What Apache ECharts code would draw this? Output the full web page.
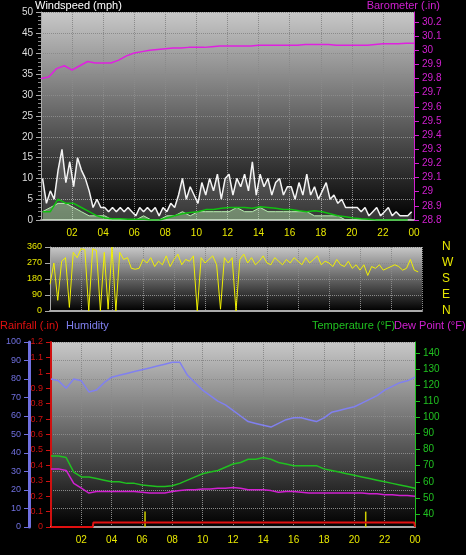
<!DOCTYPE html><html><head><meta charset="utf-8">
<script src="https://cdn.jsdelivr.net/npm/echarts@6/dist/echarts.min.js"></script>
<style>html,body{margin:0;background:#000}#c{width:466px;height:555px}</style></head><body><div id="c"></div>
<script>
const hourTicks=['02','04','06','08','10','12','14','16','18','20','22','00'];
const gust=[10,4,7,5,12,17,9,14,8,15,12,10,7,3,5,3,3,2,3,2,3,2,3,2,1,3,2,3,2,3,1,3,2,4,3,6,10,5,8,6,4,9,6,10,7,11,5,10,11,6,10,8,11,7,14,6,11,8,10,6,9,10,6,8,8,5,9,6,11,6,8,5,7,9,5,6,4,5,3,3,3,3,2,3,1,2,3,1,2,3,1,2,1,1,1,2];
const speed=[2,3,4,4,3,2,1,1,1,0,0,0,0,1,0,0,1,1,2,1,2,2,2,2,2,3,2,2,3,2,2,2,2,2,2,1,1,1,1,0,0,0,0,0,0,0,0,0];
const avgWind=[2,2,5,4,4,3,2,1,0.5,0.3,0.3,0.2,0.2,0.2,0,0,0.5,1,1.5,1.8,2,2.5,2.5,2.8,3,3,3,2.8,3.2,3,2.8,2.5,2.5,2.2,2,2.2,2,1.5,1,0.8,0.5,0.3,0.2,0,0,0,0,0];
const baro=[29.80,29.81,29.87,29.89,29.86,29.89,29.92,29.91,29.91,29.91,29.93,29.96,29.98,29.99,30.00,30.005,30.01,30.015,30.015,30.02,30.02,30.02,30.025,30.03,30.03,30.03,30.03,30.03,30.035,30.035,30.035,30.035,30.035,30.035,30.04,30.04,30.04,30.04,30.035,30.035,30.035,30.035,30.035,30.04,30.045,30.045,30.045,30.05,30.05];
const windDir=[150,270,60,280,300,20,330,300,350,345,0,350,340,0,330,10,360,0,330,290,300,240,235,240,290,270,300,250,280,260,310,250,290,320,260,290,280,310,0,300,270,290,310,260,10,300,270,300,0,290,320,270,300,260,280,310,270,260,300,280,260,290,270,300,280,260,300,270,290,310,260,280,270,250,290,260,250,280,240,260,230,260,200,250,240,260,230,240,250,260,250,230,240,290,230,220];
const humidity=[80,79,75,80,79,73,74,78,81,82,83,84,85,86,87,88,89,89,82,78,74,71,68,66,63,60,57,56,55,54,56,58,59,59,58,57,59,62,63,64,65,67,69,71,74,76,78,79,81];
const temperature=[76,76,75,66,63,63,62,61,60,60,59,59,58,57.5,57,57,57.5,59,61,63,65,66,67,69,71,72,74,74,75,74,72,71,70,70,70,70,68,67,66,65,64,63,62,61,60,59,58,57,56];
const dewPoint=[68,68,67,59,56,53,54,54,54,54,54,54,53.5,53,53,53,54,54.5,55,55,55.5,55.5,56,56,56.5,56,55,55,55,54.5,53.5,54,54,53.5,53,53,53,53,53,53,53,53,52.5,52.5,52,52,51.5,51.5,51];
const rainHours=[0,2.75,2.8,23.95,24];
const rainfall=[0,0,0.03,0.03,0];
const rateHours=[6.2,20.75];
const rainRate=[0.1,0.1];
const dirLabels={0:'N',90:'E',180:'S',270:'W',360:'N'};

const pairs=(arr,step,start=0)=>arr.map((v,i)=>[start+i*step,v]);
const zip=(xs,ys)=>xs.map((x,i)=>[x,ys[i]]);
const F='Liberation Sans';
const bg={type:'linear',x:0,y:0,x2:0,y2:1,colorStops:[{offset:0,color:'#c8c8c8'},{offset:1,color:'#000'}]};
const gridLine={show:true,lineStyle:{color:'#8a8a8a',type:'dotted',width:1}};
const xCommon=(gi,show)=>({type:'value',gridIndex:gi,min:0,max:24,interval:2,
  axisLine:{show:true,lineStyle:{color:'#aaa',width:2}},axisTick:{show:false},splitLine:gridLine,
  axisLabel:{show:show,color:'#e8e800',fontSize:10,fontFamily:F,formatter:v=>v===0?'':hourTicks[v/2-1]}});
const ch=echarts.init(document.getElementById('c'));
ch.setOption({backgroundColor:'#000',animation:false,
grid:[
 {left:41,right:52,top:12,height:208,show:true,backgroundColor:bg,borderWidth:0},
 {left:50,right:44,top:247,height:64,show:true,backgroundColor:bg,borderWidth:0},
 {left:51,right:51,top:342,height:185,show:true,backgroundColor:bg,borderWidth:0}],
xAxis:[xCommon(0,true),xCommon(1,false),xCommon(2,true)],
yAxis:[
 {type:'value',gridIndex:0,min:0,max:50,interval:5,axisLine:{show:true,lineStyle:{color:'#aaa'}},axisTick:{show:true,lineStyle:{color:'#aaa'}},minorTick:{show:true,splitNumber:5,lineStyle:{color:'#888'}},splitLine:gridLine,axisLabel:{color:'#ddd',fontSize:10,fontFamily:F}},
 {type:'value',gridIndex:0,position:'right',min:28.8,max:30.27,axisLine:{show:true,lineStyle:{color:'#d020d0'}},axisTick:{show:true,customValues:[28.8,28.9,29,29.1,29.2,29.3,29.4,29.5,29.6,29.7,29.8,29.9,30,30.1,30.2]},splitLine:{show:false},axisLabel:{color:'#d020d0',fontSize:10,fontFamily:F,customValues:[28.8,28.9,29,29.1,29.2,29.3,29.4,29.5,29.6,29.7,29.8,29.9,30,30.1,30.2],formatter:v=>String(+v.toFixed(1))}},
 {type:'value',gridIndex:1,min:0,max:360,interval:90,axisLine:{show:true,lineStyle:{color:'#aaa'}},axisTick:{show:true},splitLine:gridLine,axisLabel:{color:'#e8e800',fontSize:9,fontFamily:F}},
 {type:'value',gridIndex:1,position:'right',min:0,max:360,interval:90,offset:12,axisLine:{show:false},axisTick:{show:false},splitLine:{show:false},axisLabel:{color:'#e8e800',fontSize:12,fontFamily:F,formatter:v=>dirLabels[v]}},
 {type:'value',gridIndex:2,position:'left',min:0,max:1.2,interval:0.1,axisLine:{show:true,lineStyle:{color:'#d01010',width:2}},axisTick:{show:true},splitLine:{show:false},axisLabel:{color:'#d01010',fontSize:9,fontFamily:F,formatter:v=>String(+v.toFixed(1))}},
 {type:'value',gridIndex:2,position:'left',min:0,max:100,interval:10,offset:22,axisLine:{show:true,lineStyle:{color:'#7070e0',width:3}},axisTick:{show:true},splitLine:gridLine,axisLabel:{color:'#7070e0',fontSize:9,fontFamily:F}},
 {type:'value',gridIndex:2,position:'right',min:31.9,max:146.8,axisLine:{show:true,lineStyle:{color:'#20c020'}},axisTick:{show:true,customValues:[40,50,60,70,80,90,100,110,120,130,140]},splitLine:{show:false},axisLabel:{color:'#20c020',fontSize:10,fontFamily:F,customValues:[40,50,60,70,80,90,100,110,120,130,140]}}],
series:[
 {type:'line',xAxisIndex:0,yAxisIndex:0,data:pairs(gust,0.25,0.1),symbol:'none',lineStyle:{color:'#f4f4f4',width:1.5},areaStyle:{color:'rgba(255,255,255,0.3)'}},
 {type:'line',xAxisIndex:0,yAxisIndex:0,data:pairs(speed,0.5,0.1),symbol:'none',lineStyle:{color:'#b8f0b0',width:1},areaStyle:{color:'rgba(190,245,180,0.6)'}},
 {type:'line',xAxisIndex:0,yAxisIndex:0,data:pairs(avgWind,0.5,0.1),symbol:'none',lineStyle:{color:'#10c010',width:1.5}},
 {type:'line',xAxisIndex:0,yAxisIndex:1,data:pairs(baro,0.5),symbol:'none',lineStyle:{color:'#e020e0',width:1.5}},
 {type:'line',xAxisIndex:1,yAxisIndex:2,data:pairs(windDir,0.25),symbol:'none',lineStyle:{color:'#f0f000',width:1}},
 {type:'line',xAxisIndex:2,yAxisIndex:5,data:pairs(humidity,0.5),symbol:'none',lineStyle:{color:'#8080f0',width:1.5}},
 {type:'line',xAxisIndex:2,yAxisIndex:6,data:pairs(temperature,0.5),symbol:'none',lineStyle:{color:'#20c020',width:1.5}},
 {type:'line',xAxisIndex:2,yAxisIndex:6,data:pairs(dewPoint,0.5),symbol:'none',lineStyle:{color:'#d020d0',width:1.5}},
 {type:'line',xAxisIndex:2,yAxisIndex:4,data:zip(rainHours,rainfall),symbol:'none',lineStyle:{color:'#e01010',width:2}},
 {type:'bar',xAxisIndex:2,yAxisIndex:4,data:zip(rateHours,rainRate),barWidth:1.5,itemStyle:{color:'#d0d000'}}],
graphic:[
 {type:'text',left:35,top:0,style:{text:'Windspeed (mph)',fill:'#fff',font:'11px '+F}},
 {type:'text',right:26,top:0,style:{text:'Barometer (.in)',fill:'#d020d0',font:'11px '+F}},
 {type:'text',left:0,top:320,style:{text:'Rainfall (.in)',fill:'#e01010',font:'11px '+F}},
 {type:'text',left:66,top:320,style:{text:'Humidity',fill:'#8080f0',font:'11px '+F}},
 {type:'text',left:312,top:320,style:{text:'Temperature (°F)',fill:'#20c020',font:'11px '+F}},
 {type:'text',left:394,top:320,style:{text:'Dew Point (°F)',fill:'#d020d0',font:'11px '+F}}]
});
</script></body></html>
